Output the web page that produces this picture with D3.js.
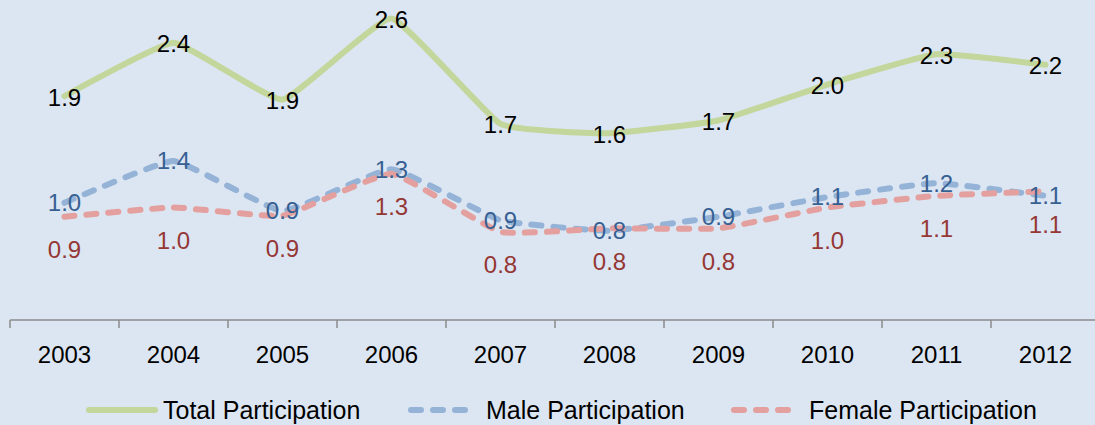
<!DOCTYPE html>
<html>
<head>
<meta charset="utf-8">
<script src="https://cdn.jsdelivr.net/npm/d3@7"></script>
<style>
  html, body { margin: 0; padding: 0; background: #dce6f2; }
  svg { display: block; }
  text { font-family: 'Liberation Sans', Arial, sans-serif; }
</style>
</head>
<body>
<svg id="chart" width="1095" height="425"></svg>
<script>
// chart data
const years = ['2003', '2004', '2005', '2006', '2007', '2008', '2009', '2010', '2011', '2012'];
const totalParticipation = [1.93, 2.39, 1.90, 2.60, 1.69, 1.61, 1.72, 2.03, 2.29, 2.20];
const maleParticipation = [1.01, 1.37, 0.94, 1.30, 0.86, 0.77, 0.89, 1.06, 1.18, 1.07];
const femaleParticipation = [0.89, 0.97, 0.90, 1.26, 0.76, 0.79, 0.79, 0.97, 1.07, 1.11];
const seriesNames = ['Total Participation', 'Male Participation', 'Female Participation'];

const cfg = {
  width: 1095,
  height: 425,
  left: 10,
  right: 1100,
  axisY: 320,
  top: 1,
  fontSize: 24,
};

const series = [
  { name: seriesNames[0], values: totalParticipation, stroke: '#c3d69b', dash: null, label: '#000000', labelDy: 1 },
  { name: seriesNames[1], values: maleParticipation, stroke: '#95b3d7', dash: '10 12', label: '#376092', labelDy: 0 },
  { name: seriesNames[2], values: femaleParticipation, stroke: '#e3a09e', dash: '10 12', label: '#953735', labelDy: 33 },
];

const svg = d3.select('#chart');

svg.append('rect')
  .attr('width', cfg.width)
  .attr('height', cfg.height)
  .attr('fill', '#dce6f2');

const x = d3.scaleBand()
  .domain(years)
  .range([cfg.left, cfg.right]);

const y = d3.scaleLinear()
  .domain([0, 2.75])
  .range([cfg.axisY, cfg.top]);

const px = d => x(d) + x.bandwidth() / 2;

// category axis: line, boundary ticks, labels
const axis = svg.append('g').attr('class', 'xAxis');

axis.append('line')
  .attr('x1', cfg.left)
  .attr('x2', cfg.width)
  .attr('y1', cfg.axisY)
  .attr('y2', cfg.axisY)
  .attr('stroke', '#8c8c8c')
  .attr('stroke-width', 1.5);

axis.selectAll('.xAxis_Tick')
  .data(years)
  .enter()
  .append('line')
  .attr('class', 'xAxis_Tick')
  .attr('x1', d => x(d))
  .attr('x2', d => x(d))
  .attr('y1', cfg.axisY)
  .attr('y2', cfg.axisY + 8)
  .attr('stroke', '#8c8c8c')
  .attr('stroke-width', 1.5);

axis.selectAll('.xAxis_Label')
  .data(years)
  .enter()
  .append('text')
  .attr('class', 'xAxis_Label')
  .attr('x', d => px(d))
  .attr('y', 363)
  .attr('text-anchor', 'middle')
  .style('font-size', `${cfg.fontSize}px`)
  .attr('fill', '#000')
  .text(d => d);

// lightly smoothed lines, close to the office chart
const line = d3.line()
  .x((d, i) => px(years[i]))
  .y(d => y(d))
  .curve(d3.curveCardinal.tension(0.65));

const lineGroup = svg.append('g').attr('class', 'lines');

lineGroup.selectAll('.series')
  .data(series)
  .enter()
  .append('path')
  .attr('class', 'series')
  .attr('d', d => line(d.values))
  .attr('fill', 'none')
  .attr('stroke', d => d.stroke)
  .attr('stroke-width', 6)
  .attr('stroke-linecap', 'round')
  .attr('stroke-linejoin', 'round')
  .attr('stroke-dasharray', d => d.dash);

// data labels
const fmt = d3.format('.1f');
series.forEach((s) => {
  svg.append('g')
    .selectAll('text')
    .data(s.values)
    .enter()
    .append('text')
    .attr('x', (d, i) => px(years[i]))
    .attr('y', d => y(d) + s.labelDy)
    .attr('dy', '0.35em')
    .attr('text-anchor', 'middle')
    .style('font-size', `${cfg.fontSize}px`)
    .attr('fill', s.label)
    .text(d => fmt(d));
});

// legend
const legendPos = [87, 409, 732];
const legend = svg.append('g').attr('class', 'legend')
  .selectAll('g')
  .data(series)
  .enter()
  .append('g')
  .attr('transform', (d, i) => `translate(${legendPos[i]},410)`);

legend.append('line')
  .attr('x1', 2)
  .attr('x2', (d, i) => (i === 0 ? 68 : 60))
  .attr('y1', 0)
  .attr('y2', 0)
  .attr('stroke', d => d.stroke)
  .attr('stroke-width', 6)
  .attr('stroke-linecap', 'round')
  .attr('stroke-dasharray', d => d.dash);

legend.append('text')
  .attr('x', (d, i) => (i === 0 ? 76 : 77))
  .attr('y', 0)
  .attr('dy', '0.35em')
  .style('font-size', '25px')
  .attr('fill', '#000')
  .text(d => d.name);
</script>
</body>
</html>
